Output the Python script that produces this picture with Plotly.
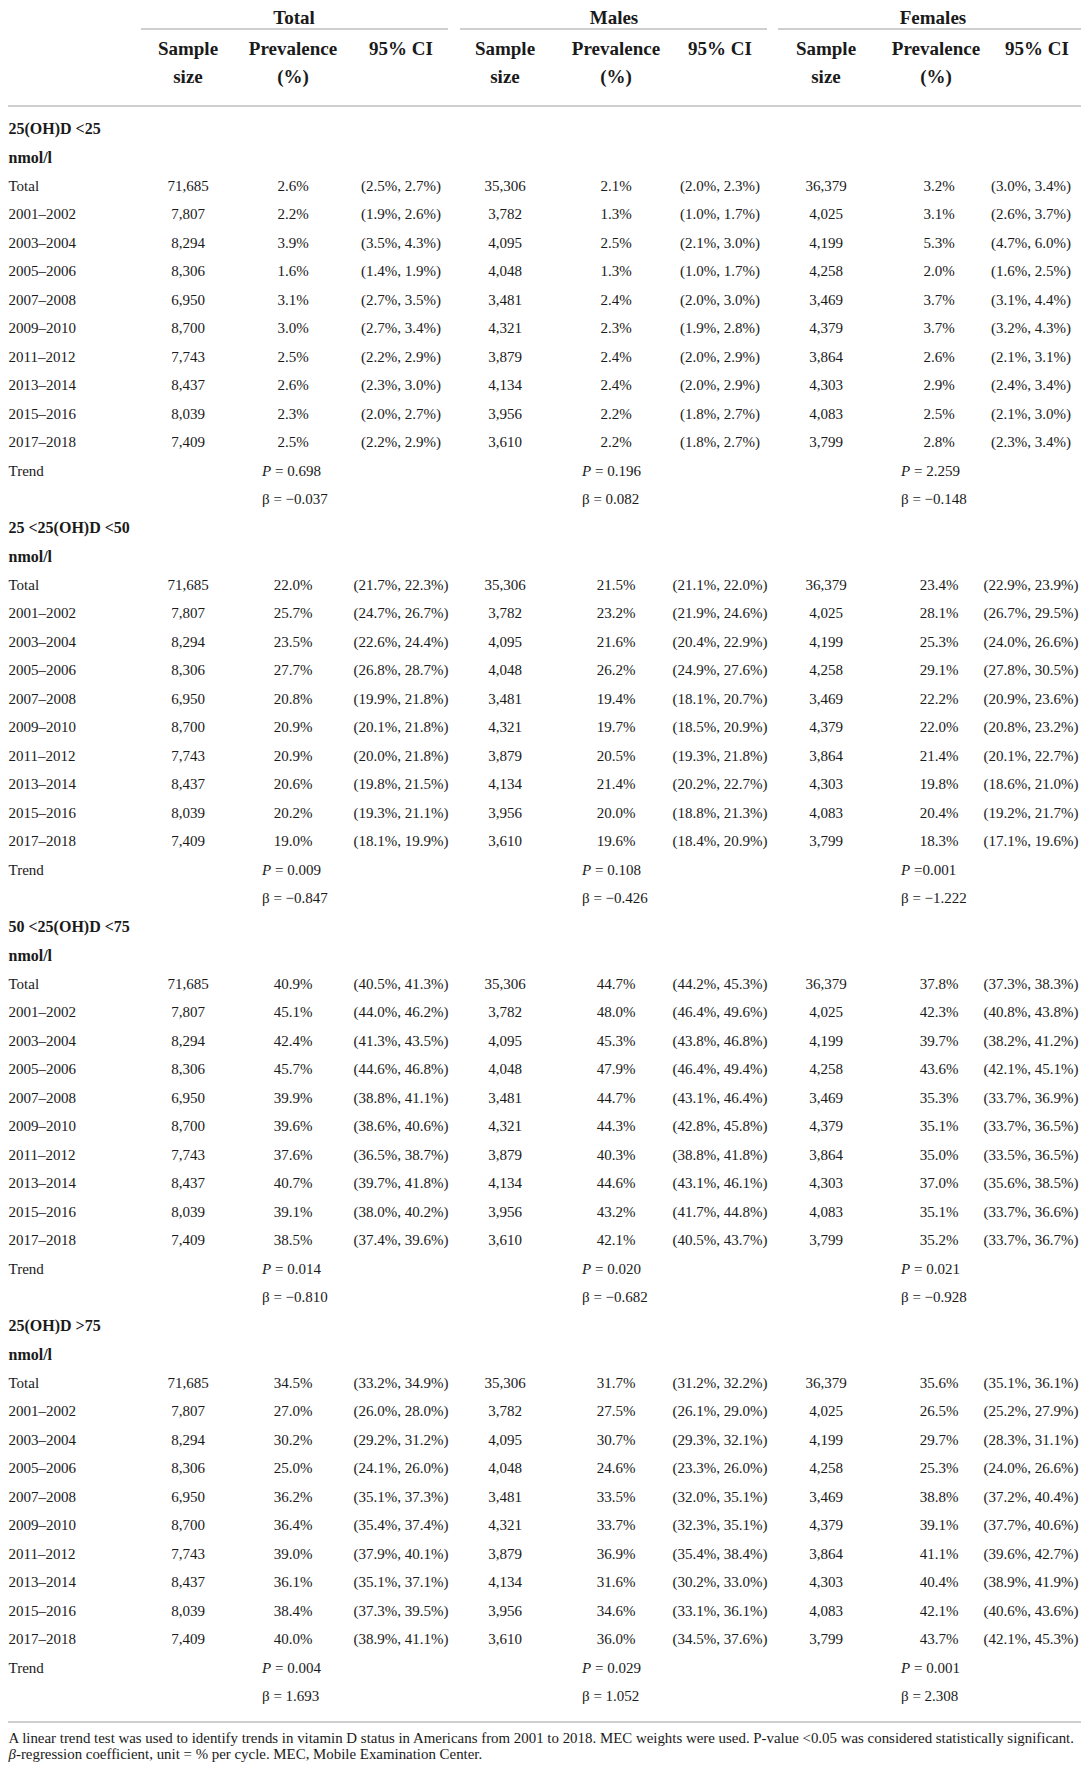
import plotly.graph_objects as go

# sample sizes per cycle (same for every 25(OH)D category)
periods = ["Total", "2001–2002", "2003–2004", "2005–2006", "2007–2008", "2009–2010",
           "2011–2012", "2013–2014", "2015–2016", "2017–2018"]
total_n = [71685, 7807, 8294, 8306, 6950, 8700, 7743, 8437, 8039, 7409]
male_n = [35306, 3782, 4095, 4048, 3481, 4321, 3879, 4134, 3956, 3610]
female_n = [36379, 4025, 4199, 4258, 3469, 4379, 3864, 4303, 4083, 3799]

categories = [("25(OH)D <25", "nmol/l"), ("25 <25(OH)D <50", "nmol/l"),
              ("50 <25(OH)D <75", "nmol/l"), ("25(OH)D >75", "nmol/l")]

# prevalence (%) - one list per category
total_prev = [
    [2.6, 2.2, 3.9, 1.6, 3.1, 3.0, 2.5, 2.6, 2.3, 2.5],
    [22.0, 25.7, 23.5, 27.7, 20.8, 20.9, 20.9, 20.6, 20.2, 19.0],
    [40.9, 45.1, 42.4, 45.7, 39.9, 39.6, 37.6, 40.7, 39.1, 38.5],
    [34.5, 27.0, 30.2, 25.0, 36.2, 36.4, 39.0, 36.1, 38.4, 40.0],
]
male_prev = [
    [2.1, 1.3, 2.5, 1.3, 2.4, 2.3, 2.4, 2.4, 2.2, 2.2],
    [21.5, 23.2, 21.6, 26.2, 19.4, 19.7, 20.5, 21.4, 20.0, 19.6],
    [44.7, 48.0, 45.3, 47.9, 44.7, 44.3, 40.3, 44.6, 43.2, 42.1],
    [31.7, 27.5, 30.7, 24.6, 33.5, 33.7, 36.9, 31.6, 34.6, 36.0],
]
female_prev = [
    [3.2, 3.1, 5.3, 2.0, 3.7, 3.7, 2.6, 2.9, 2.5, 2.8],
    [23.4, 28.1, 25.3, 29.1, 22.2, 22.0, 21.4, 19.8, 20.4, 18.3],
    [37.8, 42.3, 39.7, 43.6, 35.3, 35.1, 35.0, 37.0, 35.1, 35.2],
    [35.6, 26.5, 29.7, 25.3, 38.8, 39.1, 41.1, 40.4, 42.1, 43.7],
]

# 95% CI lower / upper
total_lo = [
    [2.5, 1.9, 3.5, 1.4, 2.7, 2.7, 2.2, 2.3, 2.0, 2.2],
    [21.7, 24.7, 22.6, 26.8, 19.9, 20.1, 20.0, 19.8, 19.3, 18.1],
    [40.5, 44.0, 41.3, 44.6, 38.8, 38.6, 36.5, 39.7, 38.0, 37.4],
    [33.2, 26.0, 29.2, 24.1, 35.1, 35.4, 37.9, 35.1, 37.3, 38.9],
]
total_hi = [
    [2.7, 2.6, 4.3, 1.9, 3.5, 3.4, 2.9, 3.0, 2.7, 2.9],
    [22.3, 26.7, 24.4, 28.7, 21.8, 21.8, 21.8, 21.5, 21.1, 19.9],
    [41.3, 46.2, 43.5, 46.8, 41.1, 40.6, 38.7, 41.8, 40.2, 39.6],
    [34.9, 28.0, 31.2, 26.0, 37.3, 37.4, 40.1, 37.1, 39.5, 41.1],
]
male_lo = [
    [2.0, 1.0, 2.1, 1.0, 2.0, 1.9, 2.0, 2.0, 1.8, 1.8],
    [21.1, 21.9, 20.4, 24.9, 18.1, 18.5, 19.3, 20.2, 18.8, 18.4],
    [44.2, 46.4, 43.8, 46.4, 43.1, 42.8, 38.8, 43.1, 41.7, 40.5],
    [31.2, 26.1, 29.3, 23.3, 32.0, 32.3, 35.4, 30.2, 33.1, 34.5],
]
male_hi = [
    [2.3, 1.7, 3.0, 1.7, 3.0, 2.8, 2.9, 2.9, 2.7, 2.7],
    [22.0, 24.6, 22.9, 27.6, 20.7, 20.9, 21.8, 22.7, 21.3, 20.9],
    [45.3, 49.6, 46.8, 49.4, 46.4, 45.8, 41.8, 46.1, 44.8, 43.7],
    [32.2, 29.0, 32.1, 26.0, 35.1, 35.1, 38.4, 33.0, 36.1, 37.6],
]
female_lo = [
    [3.0, 2.6, 4.7, 1.6, 3.1, 3.2, 2.1, 2.4, 2.1, 2.3],
    [22.9, 26.7, 24.0, 27.8, 20.9, 20.8, 20.1, 18.6, 19.2, 17.1],
    [37.3, 40.8, 38.2, 42.1, 33.7, 33.7, 33.5, 35.6, 33.7, 33.7],
    [35.1, 25.2, 28.3, 24.0, 37.2, 37.7, 39.6, 38.9, 40.6, 42.1],
]
female_hi = [
    [3.4, 3.7, 6.0, 2.5, 4.4, 4.3, 3.1, 3.4, 3.0, 3.4],
    [23.9, 29.5, 26.6, 30.5, 23.6, 23.2, 22.7, 21.0, 21.7, 19.6],
    [38.3, 43.8, 41.2, 45.1, 36.9, 36.5, 36.5, 38.5, 36.6, 36.7],
    [36.1, 27.9, 31.1, 26.6, 40.4, 40.6, 42.7, 41.9, 43.6, 45.3],
]

# trend test: P text and beta, order = total, males, females
trend_p = [
    ["= 0.698", "= 0.196", "= 2.259"],
    ["= 0.009", "= 0.108", "=0.001"],
    ["= 0.014", "= 0.020", "= 0.021"],
    ["= 0.004", "= 0.029", "= 0.001"],
]
trend_beta = [
    [-0.037, 0.082, -0.148],
    [-0.847, -0.426, -1.222],
    [-0.810, -0.682, -0.928],
    [1.693, 1.052, 2.308],
]

groups = ["Total", "Males", "Females"]
col_heads_1 = ["Sample", "Prevalence", "95% CI"]
col_heads_2 = ["size", "(%)", ""]

footnote_1 = ("A linear trend test was used to identify trends in vitamin D status in Americans "
              "from 2001 to 2018. MEC weights were used. P-value <0.05 was considered statistically significant.")
footnote_2 = "<i>β</i>-regression coefficient, unit = % per cycle. MEC, Mobile Examination Center."

W, H = 1089, 1770
# the page body has an 8px margin; keep the figure inside the window so no scrollbars show
OFF = 8
FW, FH = W - 2 * OFF, H - 2 * OFF
FONT = "Liberation Serif"
INK = "#1a1a1a"
RULE = "#cfcfcf"

# layout of the table (window pixels)
group_x = [294, 614, 933]
group_span = [(141, 448), (460, 767), (778, 1081)]
head_x = [[188, 293, 401], [505, 616, 720], [826, 936, 1037]]
col_x = [[188, 293, 401], [505, 616, 720], [826, 939, 1031]]
trend_x = [262, 582, 901]
label_x = 8.5
row0_y = 130
row_h = 28.5


def row_y(r):
    return row0_y + row_h * r


def pct(v):
    return f"{v:.1f}%"


def num(v):
    return f"{v:,}"


def minus(v):
    return f"{v:.3f}".replace("-", "−")


def text_trace(xs, ys, texts, pos="middle center", size=15, bold=False):
    if bold:
        texts = [f"<b>{t}</b>" for t in texts]
    return go.Scatter(x=xs, y=ys, text=texts, mode="text", textposition=pos,
                      textfont=dict(family=FONT, size=size, color=INK),
                      cliponaxis=False, hoverinfo="skip", showlegend=False)


def build_table():
    fig = go.Figure()

    # group titles + column headers
    fig.add_trace(text_trace(group_x, [19] * 3, groups, size=19, bold=True))
    hx, h1, h2 = [], [], []
    for g in range(3):
        for c in range(3):
            hx.append(head_x[g][c])
            h1.append(col_heads_1[c])
            h2.append(col_heads_2[c])
    fig.add_trace(text_trace(hx, [50] * len(hx), h1, size=19, bold=True))
    fig.add_trace(text_trace(hx, [78] * len(hx), h2, size=19, bold=True))

    sizes = [total_n, male_n, female_n]
    prevs = [total_prev, male_prev, female_prev]
    los = [total_lo, male_lo, female_lo]
    his = [total_hi, male_hi, female_hi]

    lab_x, lab_y, lab_t = [], [], []
    head_y, head_t = [], []
    cx, cy, ct = [], [], []
    tx, ty, tt = [], [], []
    for b, (h1_, h2_) in enumerate(categories):
        base = 14 * b
        head_y += [row_y(base), row_y(base + 1)]
        head_t += [h1_, h2_]
        for k, per in enumerate(periods):
            y = row_y(base + 2 + k)
            lab_x.append(label_x)
            lab_y.append(y)
            lab_t.append(per)
            for g in range(3):
                cx += col_x[g]
                cy += [y, y, y]
                ct += [num(sizes[g][k]), pct(prevs[g][b][k]),
                       f"({pct(los[g][b][k])}, {pct(his[g][b][k])})"]
        lab_x.append(label_x)
        lab_y.append(row_y(base + 12))
        lab_t.append("Trend")
        for g in range(3):
            tx += [trend_x[g], trend_x[g]]
            ty += [row_y(base + 12), row_y(base + 13)]
            tt += [f"<i>P</i> {trend_p[b][g]}", f"β = {minus(trend_beta[b][g])}"]

    fig.add_trace(text_trace([label_x] * len(head_y), head_y, head_t, pos="middle right", size=16, bold=True))
    fig.add_trace(text_trace(lab_x, lab_y, lab_t, pos="middle right"))
    fig.add_trace(text_trace(cx, cy, ct))
    fig.add_trace(text_trace(tx, ty, tt, pos="middle right"))

    # footnote
    fig.add_trace(text_trace([label_x, label_x], [1739, 1755], [footnote_1, footnote_2],
                             pos="middle right", size=14.9))

    # rules
    for x0, x1 in group_span:
        fig.add_shape(type="line", x0=x0, x1=x1, y0=29, y1=29, line=dict(color=RULE, width=2))
    for y in [106, 1722]:
        fig.add_shape(type="line", x0=OFF, x1=OFF + FW, y0=y, y1=y, line=dict(color=RULE, width=2))

    fig.update_xaxes(visible=False, range=[OFF, OFF + FW], fixedrange=True)
    fig.update_yaxes(visible=False, range=[OFF + FH, OFF], fixedrange=True)
    fig.update_layout(width=FW, height=FH, margin=dict(l=0, r=0, t=0, b=0),
                      paper_bgcolor="white", plot_bgcolor="white", showlegend=False)
    return fig


if __name__ == '__main__':
    fig = build_table()
    fig.write_html("out.html")
